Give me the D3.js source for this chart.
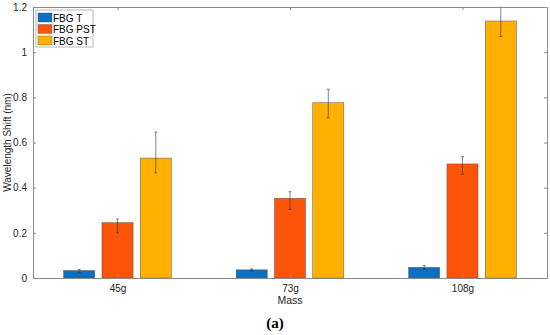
<!DOCTYPE html>
<html>
<head>
<meta charset="utf-8">
<script src="https://cdn.jsdelivr.net/npm/d3@7"></script>
<style>
  body { margin: 0; background: #fff; }
  text { font-family: "Liberation Sans", Arial, sans-serif; fill: #262626; }
</style>
</head>
<body>
<svg id="chart"></svg>
<script>
// Data
const masses = ["45g", "73g", "108g"];
const seriesNames = ["FBG T", "FBG PST", "FBG ST"];
const seriesColors = ["#0b6fc2", "#fc5409", "#ffb000"];
const fbgT = [0.033, 0.036, 0.047];
const fbgPST = [0.245, 0.353, 0.505];
const fbgST = [0.531, 0.776, 1.138];
// error bar ends (low, high)
const fbgTLow = [0.024, 0.032, 0.038];
const fbgTHigh = [0.038, 0.040, 0.055];
const fbgPSTLow = [0.200, 0.304, 0.459];
const fbgPSTHigh = [0.261, 0.382, 0.537];
const fbgSTLow = [0.465, 0.709, 1.069];
const fbgSTHigh = [0.646, 0.836, 1.199];
const yTicks = [0, 0.2, 0.4, 0.6, 0.8, 1, 1.2];

const width = 550;
const height = 335;
const margin = { top: 7, right: 3, bottom: 57, left: 33 };

const svg = d3.select("#chart")
    .attr("width", width)
    .attr("height", height);

// x runs over group index like MATLAB's bar positions
const xScale = d3.scaleLinear()
    .domain([0.51, 3.49])
    .range([margin.left, width - margin.right]);

const yScale = d3.scaleLinear()
    .domain([0, 1.2])
    .range([height - margin.bottom, margin.top]);

const values = [fbgT, fbgPST, fbgST];
const lows = [fbgTLow, fbgPSTLow, fbgSTLow];
const highs = [fbgTHigh, fbgPSTHigh, fbgSTHigh];
const barWidth = 0.18;
const barOffset = 0.222;

const rows = [];
masses.forEach((m, i) => {
    seriesNames.forEach((s, j) => {
        rows.push({
            x: i + 1 + (j - 1) * barOffset,
            value: values[j][i],
            low: lows[j][i],
            high: highs[j][i],
            color: seriesColors[j]
        });
    });
});

// bars
svg.selectAll(".bar")
    .data(rows)
    .enter()
    .append("rect")
    .attr("class", "bar")
    .attr("x", d => xScale(d.x - barWidth / 2))
    .attr("width", xScale(barWidth) - xScale(0))
    .attr("y", d => yScale(d.value))
    .attr("height", d => yScale(0) - yScale(d.value))
    .style("fill", d => d.color)
    .style("stroke", "#555")
    .style("stroke-width", 0.5);

// error bars
const err = svg.selectAll(".err")
    .data(rows)
    .enter()
    .append("g")
    .attr("class", "err")
    .style("stroke", "#333")
    .style("stroke-width", 0.6);

err.append("line")
    .attr("x1", d => xScale(d.x))
    .attr("x2", d => xScale(d.x))
    .attr("y1", d => yScale(d.low))
    .attr("y2", d => yScale(d.high));

err.append("line")
    .attr("x1", d => xScale(d.x) - 1.5)
    .attr("x2", d => xScale(d.x) + 1.5)
    .attr("y1", d => yScale(d.low))
    .attr("y2", d => yScale(d.low));

err.append("line")
    .attr("x1", d => xScale(d.x) - 1.5)
    .attr("x2", d => xScale(d.x) + 1.5)
    .attr("y1", d => yScale(d.high))
    .attr("y2", d => yScale(d.high));

// axes (box on, ticks inward)
const axisColor = "#8a8a8a";
const xTicks = masses.map((m, i) => i + 1);

const xAxis = d3.axisBottom(xScale)
    .tickValues(xTicks)
    .tickFormat((d, i) => masses[i])
    .tickSizeInner(-3)
    .tickSizeOuter(0)
    .tickPadding(7);

const xAxisTop = d3.axisTop(xScale)
    .tickValues(xTicks)
    .tickFormat("")
    .tickSizeInner(-3)
    .tickSizeOuter(0);

const yAxis = d3.axisLeft(yScale)
    .tickValues(yTicks)
    .tickFormat(d => d)
    .tickSizeInner(-3)
    .tickSizeOuter(0)
    .tickPadding(6);

const yAxisRight = d3.axisRight(yScale)
    .tickValues(yTicks)
    .tickFormat("")
    .tickSizeInner(-3)
    .tickSizeOuter(0);

const gx = svg.append("g")
    .attr("transform", `translate(0, ${height - margin.bottom})`)
    .call(xAxis);
const gxt = svg.append("g")
    .attr("transform", `translate(0, ${margin.top})`)
    .call(xAxisTop);
const gy = svg.append("g")
    .attr("transform", `translate(${margin.left}, 0)`)
    .call(yAxis);
const gyr = svg.append("g")
    .attr("transform", `translate(${width - margin.right}, 0)`)
    .call(yAxisRight);

[gx, gxt, gy, gyr].forEach(g => {
    g.selectAll("path, line").style("stroke", axisColor);
    g.selectAll("text")
        .style("font-size", "10px")
        .style("fill", "#262626")
        .style("font-family", "Liberation Sans, Arial, sans-serif");
});

// legend
const legend = svg.append("g")
    .attr("transform", `translate(${margin.left + 3}, ${margin.top + 3})`);

legend.append("rect")
    .attr("width", 57)
    .attr("height", 37)
    .style("fill", "#fff")
    .style("stroke", "#8a8a8a")
    .style("stroke-width", 0.6);

const item = legend.selectAll(".legend")
    .data(seriesNames)
    .enter()
    .append("g")
    .attr("class", "legend")
    .attr("transform", (d, i) => `translate(2, ${3 + i * 11.5})`);

item.append("rect")
    .attr("width", 14)
    .attr("height", 9)
    .style("fill", (d, i) => seriesColors[i])
    .style("stroke", "#555")
    .style("stroke-width", 0.4);

item.append("text")
    .attr("x", 15)
    .attr("y", 8.5)
    .style("font-size", "10px")
    .style("fill", "#000")
    .text(d => d);

// axis labels
svg.append("text")
    .attr("x", xScale(2))
    .attr("y", 304)
    .style("text-anchor", "middle")
    .style("font-size", "10.5px")
    .text("Mass");

svg.append("text")
    .attr("transform", `translate(11, ${(margin.top + height - margin.bottom) / 2}) rotate(-90)`)
    .style("text-anchor", "middle")
    .style("font-size", "10px")
    .text("Wavelength Shift (nm)");

svg.append("text")
    .attr("x", 275)
    .attr("y", 328)
    .style("text-anchor", "middle")
    .style("font-size", "15px")
    .style("font-weight", "bold")
    .style("font-family", "Liberation Serif, serif")
    .style("fill", "#000")
    .text("(a)");
</script>
</body>
</html>
